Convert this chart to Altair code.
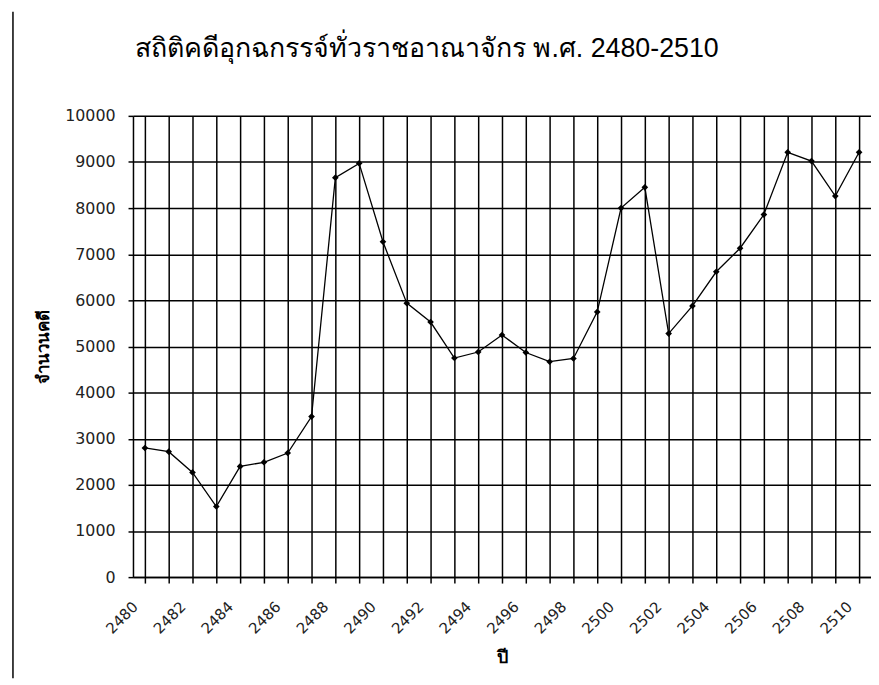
import altair as alt
import pandas as pd

years = list(range(2480, 2511))
cases = [2800, 2720, 2270, 1530, 2400, 2490, 2690, 3480, 8660, 8970,
         7270, 5940, 5530, 4750, 4880, 5250, 4870, 4670, 4740, 5750,
         8000, 8450, 5280, 5880, 6620, 7130, 7860, 9210, 9020, 8260, 9210]

title_text = "สถิติคดีอุกฉกรรจ์ทั่วราชอาณาจักร พ.ศ. 2480-2510"
y_title = "จำนวนคดี"
x_title = "ปี"

df = pd.DataFrame({"year": years, "cases": cases})

FONT = "DejaVu Sans, Tahoma, Noto Sans"
TFONT = "Liberation Sans, Arial, DejaVu Sans"

x = alt.X("year:O", title=x_title,
          scale=alt.Scale(paddingInner=0, paddingOuter=0),
          axis=alt.Axis(labelAngle=-45, labelAlign="right", labelBaseline="middle",
                        labelExpr="datum.value % 2 == 0 ? datum.label : ''",
                        labelFont=FONT, labelFontSize=15, labelColor="#222",
                        labelPadding=21, labelOffset=-10, tickSize=6, tickColor="black",
                        tickWidth=1.5, bandPosition=0,
                        domainColor="black", domainWidth=1.5,
                        grid=True, gridColor="black", gridWidth=1.5,
                        titleFont=FONT, titleFontSize=18, titleFontWeight="bold",
                        titleColor="black", titlePadding=12))
y = alt.Y("cases:Q", title=y_title,
          scale=alt.Scale(domain=[0, 10000], nice=False),
          axis=alt.Axis(values=list(range(0, 10001, 1000)), format="d",
                        labelFont=FONT, labelFontSize=16, labelColor="#222",
                        labelPadding=13, tickSize=5, tickColor="black",
                        tickWidth=1.5, domainColor="black", domainWidth=1.5,
                        grid=True, gridColor="black", gridWidth=1.5,
                        titleFont=FONT, titleFontSize=17, titleFontWeight="bold",
                        titleColor="black", titlePadding=12))

base = alt.Chart(df)
line = base.mark_line(color="black", strokeWidth=1.3).encode(x=x, y=y)
pts = base.mark_point(shape="diamond", filled=True, color="black", size=45, opacity=1).encode(x=x, y=y)

border = alt.Chart(pd.DataFrame({"a": [0]})).mark_rule(color="black", strokeWidth=1.5).encode(
    x=alt.value(-121), y=alt.value(-105), y2=alt.value(567))

chart = alt.layer(line, pts, border).properties(
    width=744, height=465,
    padding={"left": 4, "top": 0, "right": 0, "bottom": 0},
    title=alt.Title(title_text, anchor="start", frame="group", dx=2, offset=-52,
                    font=TFONT, fontSize=27, fontWeight="normal", color="black"),
).configure_view(stroke=None).configure(background="white")

chart.save("out.html", embed_options={"renderer": "svg", "actions": False})
